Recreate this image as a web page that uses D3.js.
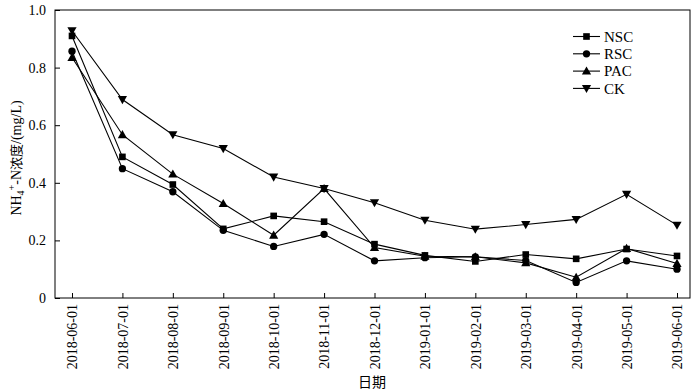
<!DOCTYPE html>
<html><head><meta charset="utf-8">
<script src="https://cdn.jsdelivr.net/npm/d3@7"></script>
<style>body{margin:0;background:#fff}svg{display:block}</style>
</head><body>
<svg id="c" width="700" height="391"></svg>
<script>
const dates = ["2018-06-01","2018-07-01","2018-08-01","2018-09-01","2018-10-01","2018-11-01","2018-12-01","2019-01-01","2019-02-01","2019-03-01","2019-04-01","2019-05-01","2019-06-01"];
const NSC = [0.910,0.490,0.394,0.240,0.285,0.265,0.187,0.148,0.127,0.151,0.136,0.170,0.146];
const RSC = [0.857,0.449,0.369,0.235,0.179,0.221,0.129,0.140,0.143,0.130,0.054,0.129,0.100];
const PAC = [0.835,0.567,0.430,0.328,0.218,0.380,0.175,0.145,0.143,0.122,0.072,0.172,0.120];
const CK  = [0.928,0.689,0.567,0.519,0.420,0.380,0.331,0.270,0.239,0.255,0.273,0.360,0.253];
const yTicks = [0,0.2,0.4,0.6,0.8,1.0];
const seriesNames = ["NSC","RSC","PAC","CK"];
const seriesVals = [NSC,RSC,PAC,CK];
const markers = ["square","circle","up","down"];

const svg = d3.select("#c");
const L=55,R=690,T=10,B=298;
const serif = "'Liberation Serif','Times New Roman',serif";
const x = d3.scalePoint().domain(dates).range([72,677]);
const y = d3.scaleLinear().domain([0,1]).range([B,T]);

svg.append("rect").attr("x",L).attr("y",T).attr("width",R-L).attr("height",B-T)
  .attr("fill","none").attr("stroke","#000").attr("stroke-width",1);

const ya = svg.append("g").attr("transform",`translate(${L},0)`)
  .call(d3.axisLeft(y).tickValues(yTicks).tickSizeInner(-5).tickSizeOuter(0).tickPadding(9)
    .tickFormat(d=>d===0?"0":d3.format(".1f")(d)));
ya.select(".domain").remove();
ya.selectAll("text").attr("font-family",serif).attr("font-size",14).attr("fill","#000");

const xa = svg.append("g").attr("transform",`translate(0,${B})`)
  .call(d3.axisBottom(x).tickSizeInner(-5).tickSizeOuter(0));
xa.select(".domain").remove();
xa.selectAll("text").attr("font-family",serif).attr("font-size",14).attr("fill","#000")
  .attr("transform","rotate(-90)").attr("text-anchor","end").attr("dy","0.35em").attr("x",-6).attr("y",0);

function sym(type){
  if(type==="square") return d3.symbol(d3.symbolSquare,44)();
  if(type==="circle") return d3.symbol(d3.symbolCircle,42)();
  const s=4.6;
  if(type==="up") return `M0,${-s}L${s},${s*0.75}L${-s},${s*0.75}Z`;
  return `M0,${s}L${s},${-s*0.75}L${-s},${-s*0.75}Z`;
}
const line = d3.line().x((d,i)=>x(dates[i])).y(d=>y(d));
seriesVals.forEach((vals,k)=>{
  svg.append("path").datum(vals).attr("d",line).attr("fill","none").attr("stroke","#000").attr("stroke-width",1.1);
  svg.append("g").selectAll("path").data(vals).join("path")
    .attr("transform",(d,i)=>`translate(${x(dates[i])},${y(d)})`)
    .attr("d",sym(markers[k])).attr("fill","#000");
});

// legend
const lg = svg.append("g");
seriesNames.forEach((n,k)=>{
  const yy = 36.5 + k*17.3;
  lg.append("line").attr("x1",573).attr("x2",600).attr("y1",yy).attr("y2",yy).attr("stroke","#000").attr("stroke-width",1.1);
  lg.append("path").attr("transform",`translate(586.5,${yy})`).attr("d",sym(markers[k])).attr("fill","#000");
  lg.append("text").attr("x",604).attr("y",yy).attr("dy","0.35em").attr("font-family",serif).attr("font-size",15).text(n);
});

// y label
const yl = svg.append("text").attr("transform","translate(21,158) rotate(-90)").attr("text-anchor","middle")
  .attr("font-family",serif).attr("font-size",14);
yl.append("tspan").text("NH");
yl.append("tspan").attr("font-size",10).attr("dy",3).text("4");
yl.append("tspan").attr("font-size",10).attr("dy",-9).text("+");
yl.append("tspan").attr("dy",6).text("-N");
yl.append("tspan").attr("font-family","'Noto Sans CJK SC'").attr("font-size",13).text("浓度");
yl.append("tspan").text("/(mg/L)");

svg.append("text").attr("x",372).attr("y",387).attr("text-anchor","middle")
  .attr("font-family","'Noto Sans CJK SC'").attr("font-size",14).text("日期");
</script>
</body></html>
